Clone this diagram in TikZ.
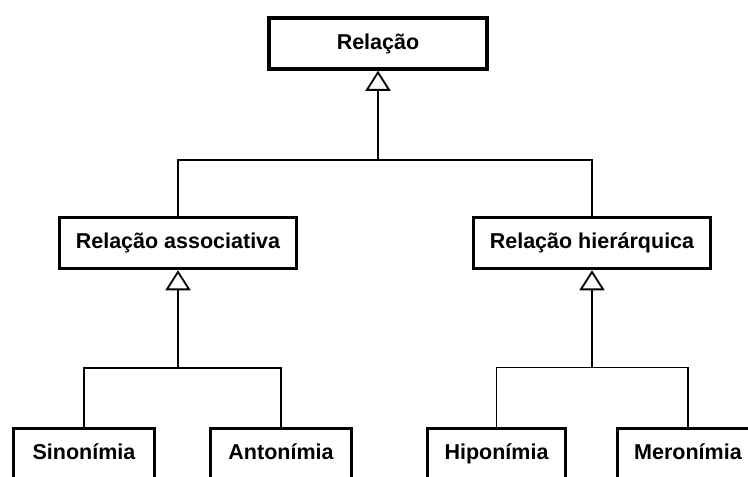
\documentclass[tikz,border=0pt]{standalone}
\usepackage{fontspec}
\setmainfont{Liberation Sans}
\usetikzlibrary{arrows.meta}
\begin{document}
\begin{tikzpicture}[x=1pt,y=-1pt,
  box/.style={draw, line width=3.5pt, minimum height=51pt, inner sep=0pt,
    text height=15.5pt, text depth=4.5pt,
    font=\bfseries\fontsize{21.5}{25}\selectfont, anchor=center},
  link/.style={line width=1.8pt},
  isa/.style={link, {Triangle[open, width=25pt, length=20pt, line width=1.8pt]}-}]
\useasboundingbox (0,0) rectangle (748,477);
\clip (0,0) rectangle (748,477);
\fill[white] (0,0) rectangle (748,477);

% classes
\node[box, minimum width=218pt] (rel) at (378,43.5) {Relação};
\node[box, minimum width=237pt] (assoc) at (178,243) {Relação associativa};
\node[box, minimum width=237pt] (hier) at (592,243) {Relação hierárquica};
\node[box, minimum width=141pt] (sin) at (84,454) {Sinonímia};
\node[box, minimum width=141pt] (ant) at (281,454) {Antonímia};
\node[box, minimum width=138pt] (hip) at (496.5,454) {Hiponímia};
\node[box, minimum width=141pt] (mer) at (688,454) {Meronímia};

% junction points of the generalisation trees
\coordinate (j0) at (378,160);
\coordinate (j1) at (178,368);
\coordinate (j2) at (592,367.5);

% generalisations
\draw[isa] (rel.south) -- (j0);
\draw[link] (assoc.north) |- (j0) -| (hier.north);
\draw[isa] (assoc.south) -- (j1);
\draw[link] (sin.north) |- (j1) -| (ant.north);
\draw[isa] (hier.south) -- (j2);
\draw[link] (hip.north) |- (j2) -| (mer.north);
\end{tikzpicture}
\end{document}
